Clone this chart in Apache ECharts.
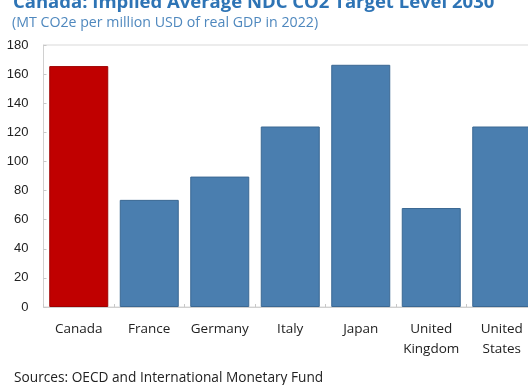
<!DOCTYPE html>
<html>
<head>
<meta charset="utf-8">
<script src="https://cdn.jsdelivr.net/npm/echarts@6/dist/echarts.min.js"></script>
<style>
    html, body { margin: 0; padding: 0; background: #fff; }
    #chart { width: 528px; height: 385px; }
</style>
</head>
<body>
<div id="chart"></div>
<script>
// 国家
var countries = ["Canada", "France", "Germany", "Italy", "Japan", "United\nKingdom", "United\nStates"];
// 2030 目标强度
var targetLevel = [165.5, 73.6, 89.6, 124, 166.4, 68, 124];
var yTicks = { min: 0, max: 180, step: 20 };

var chart = echarts.init(document.getElementById("chart"));
chart.setOption({
    animation: false,
    title: [
        {
            text: "Canada: Implied Average NDC CO2 Target Level 2030",
            left: 8,
            top: -12,
            textStyle: { color: "#2E74B5", fontSize: 18.5, fontWeight: "bold", fontFamily: "Open Sans" }
        },
        {
            text: "(MT CO2e per million USD of real GDP in 2022)",
            left: 7,
            top: 11,
            textStyle: { color: "#4F88BE", fontSize: 14.2, fontWeight: "normal", fontFamily: "Open Sans" }
        },
        {
            text: "Sources: OECD and International Monetary Fund",
            left: 9,
            top: 366,
            textStyle: { color: "#222", fontSize: 13.7, fontWeight: "normal", fontFamily: "Open Sans" }
        }
    ],
    grid: {
        left: 43.5,
        top: 45,
        width: 493.5,
        height: 262,
        containLabel: false,
        outerBoundsMode: "none",
        show: true,
        borderColor: "#d9d9d9",
        borderWidth: 1
    },
    xAxis: {
        type: "category",
        data: countries,
        axisLine: { lineStyle: { color: "#d0d0d0" } },
        axisTick: { show: true, inside: true, length: 3, lineStyle: { color: "#c8c8c8" } },
        axisLabel: {
            interval: 0,
            margin: 12,
            color: "#222",
            fontSize: 13.5,
            lineHeight: 20,
            fontFamily: "Open Sans"
        }
    },
    yAxis: {
        type: "value",
        min: yTicks.min,
        max: yTicks.max,
        interval: yTicks.step,
        axisLine: { show: true, lineStyle: { color: "#d0d0d0" } },
        axisTick: { show: true, inside: true, length: 3, lineStyle: { color: "#c8c8c8" } },
        splitLine: { show: false },
        axisLabel: { margin: 15, color: "#222", fontSize: 13, fontFamily: "Liberation Sans" }
    },
    series: [
        {
            type: "bar",
            barWidth: 59,
            data: targetLevel.map(function (v, i) {
                return {
                    value: v,
                    itemStyle: i === 0
                        ? { color: "#C00000", borderColor: "#9E0000", borderWidth: 1 }
                        : { color: "#4A7EAF", borderColor: "#3B6893", borderWidth: 1 }
                };
            })
        }
    ]
});
</script>
</body>
</html>
